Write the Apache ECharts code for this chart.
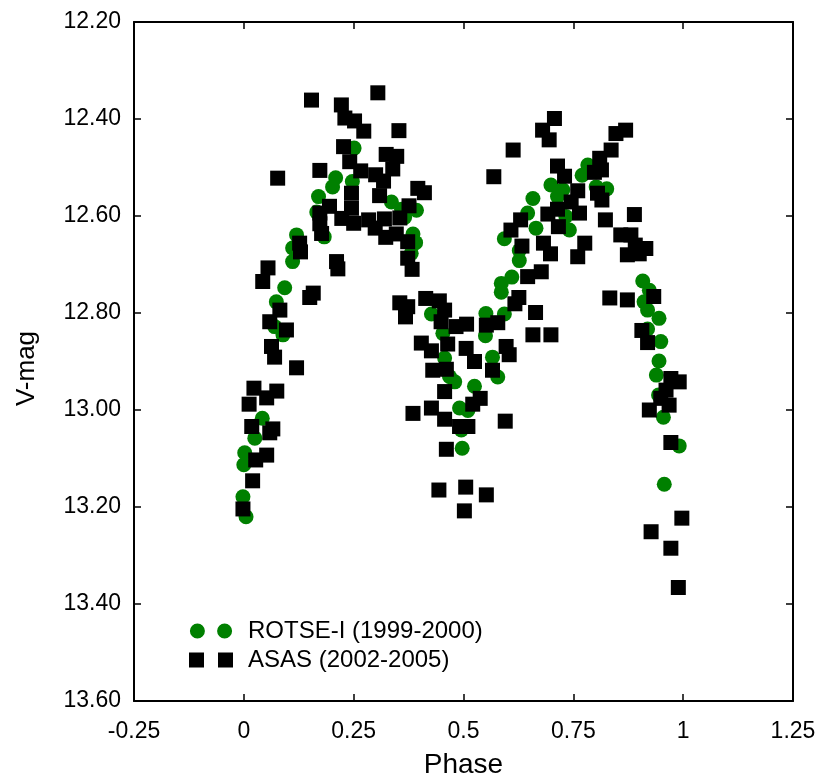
<!DOCTYPE html>
<html><head><meta charset="utf-8">
<script src="https://cdn.jsdelivr.net/npm/echarts@6/dist/echarts.min.js"></script>
<style>html,body{margin:0;padding:0;background:#fff}#c{width:822px;height:775px}</style>
</head><body><div id="c"></div>
<script>
// [phase, V-mag]
const rotseData = [
[0.005,13.220],[-0.002,13.179],[0.000,13.113],[0.002,13.088],[0.025,13.058],[0.042,13.017],[0.070,12.828],[0.089,12.845],[0.074,12.777],[0.093,12.748],
[0.111,12.694],[0.111,12.666],[0.120,12.639],[0.183,12.643],[0.166,12.592],[0.170,12.560],[0.202,12.540],[0.209,12.521],[0.247,12.529],[0.251,12.460],
[0.336,12.571],[0.359,12.586],[0.366,12.603],[0.393,12.588],[0.385,12.637],[0.391,12.655],[0.381,12.677],[0.427,12.802],[0.453,12.842],[0.457,12.893],
[0.468,12.931],[0.480,12.942],[0.525,12.951],[0.491,12.996],[0.510,13.001],[0.495,13.041],[0.497,13.079],[0.551,12.801],[0.593,12.802],[0.550,12.847],
[0.566,12.891],[0.578,12.932],[0.586,12.757],[0.586,12.739],[0.610,12.726],[0.593,12.647],[0.627,12.671],[0.627,12.692],[0.658,12.564],[0.646,12.594],
[0.665,12.625],[0.699,12.536],[0.714,12.560],[0.733,12.601],[0.741,12.629],[0.726,12.546],[0.783,12.495],[0.770,12.516],[0.802,12.540],[0.826,12.544],
[0.908,12.734],[0.923,12.753],[0.911,12.777],[0.919,12.794],[0.945,12.811],[0.919,12.833],[0.949,12.859],[0.945,12.899],[0.939,12.928],[0.944,12.969],
[0.955,13.015],[0.991,13.074],[0.957,13.153]
];
const asasData = [
[-0.002,13.204],[0.020,13.146],[0.027,13.103],[0.052,13.093],[0.018,13.034],[0.059,13.047],[0.066,13.039],[0.012,12.988],[0.052,12.975],[0.075,12.961],
[0.023,12.955],[0.120,12.913],[0.070,12.891],[0.063,12.869],[0.097,12.835],[0.059,12.818],[0.082,12.794],[0.158,12.759],[0.150,12.768],[0.043,12.735],
[0.055,12.707],[0.211,12.694],[0.214,12.709],[0.127,12.656],[0.129,12.674],[0.177,12.636],[0.173,12.616],[0.173,12.594],[0.195,12.580],[0.223,12.605],
[0.250,12.615],[0.245,12.584],[0.245,12.553],[0.173,12.506],[0.077,12.522],[0.227,12.457],[0.241,12.488],[0.266,12.507],[0.300,12.515],[0.318,12.528],
[0.339,12.503],[0.324,12.473],[0.348,12.477],[0.273,12.425],[0.353,12.424],[0.305,12.346],[0.222,12.371],[0.154,12.361],[0.230,12.398],[0.252,12.404],
[0.309,12.558],[0.396,12.543],[0.411,12.552],[0.376,12.579],[0.284,12.608],[0.299,12.625],[0.320,12.606],[0.355,12.604],[0.323,12.644],[0.347,12.637],
[0.373,12.653],[0.373,12.687],[0.383,12.710],[0.355,12.779],[0.373,12.787],[0.368,12.808],[0.414,12.770],[0.445,12.775],[0.457,12.794],[0.449,12.818],
[0.483,12.828],[0.507,12.823],[0.552,12.825],[0.578,12.820],[0.404,12.862],[0.427,12.878],[0.464,12.864],[0.506,12.873],[0.525,12.900],[0.430,12.918],
[0.461,12.916],[0.457,12.962],[0.521,12.988],[0.538,12.976],[0.385,13.007],[0.427,12.996],[0.457,13.019],[0.491,13.034],[0.510,13.034],[0.595,13.023],
[0.461,13.081],[0.444,13.165],[0.505,13.159],[0.552,13.175],[0.502,13.208],[0.566,12.918],[0.597,12.869],[0.604,12.886],[0.626,12.768],[0.617,12.781],
[0.664,12.799],[0.658,12.845],[0.699,12.845],[0.646,12.725],[0.677,12.715],[0.633,12.662],[0.682,12.656],[0.698,12.678],[0.608,12.629],[0.630,12.608],
[0.692,12.596],[0.714,12.586],[0.716,12.622],[0.569,12.519],[0.613,12.464],[0.707,12.399],[0.680,12.423],[0.695,12.443],[0.714,12.497],[0.730,12.518],
[0.760,12.548],[0.745,12.571],[0.764,12.594],[0.805,12.553],[0.815,12.567],[0.823,12.608],[0.889,12.597],[0.776,12.656],[0.760,12.684],[0.858,12.639],
[0.881,12.639],[0.891,12.660],[0.915,12.667],[0.873,12.680],[0.900,12.678],[0.798,12.510],[0.814,12.505],[0.810,12.481],[0.836,12.464],[0.847,12.430],
[0.869,12.423],[0.833,12.769],[0.873,12.773],[0.933,12.766],[0.906,12.836],[0.919,12.861],[0.972,12.935],[0.991,12.942],[0.961,12.959],[0.949,12.976],
[0.968,12.990],[0.923,13.000],[0.972,13.067],[0.997,13.223],[0.927,13.251],[0.972,13.285],[0.989,13.366]
];
const seriesNames = ['ROTSE-I (1999-2000)', 'ASAS (2002-2005)'];
const xRange = {min: -0.25, max: 1.25, interval: 0.25};
const yRange = {min: 12.2, max: 13.6, interval: 0.2};

const FONT = 'Liberation Sans, Arial, sans-serif';
const lineS = {color: '#000', width: 2};
const tickS = {show: true, inside: true, length: 7, lineStyle: {color: '#000', width: 1.5}};
const circlePair = 'path://M0,8A8,8 0 1,0 16,8A8,8 0 1,0 0,8ZM29,8A8,8 0 1,0 45,8A8,8 0 1,0 29,8Z';
const squarePair = 'path://M0,0H15V15H0ZM29,0H44V15H29Z';

const chart = echarts.init(document.getElementById('c'), null, {renderer: 'canvas'});
chart.setOption({
  animation: false,
  backgroundColor: '#fff',
  grid: {left: 134, top: 22, right: 29, bottom: 74, containLabel: false, outerBoundsMode: 'none'},
  legend: {
    orient: 'vertical', left: 184, top: 614, itemWidth: 44, itemHeight: 15, itemGap: 5,
    selectedMode: false,
    textStyle: {fontFamily: FONT, fontSize: 24, color: '#000', padding: [0, 0, 0, 10]},
    data: [{name: seriesNames[0], icon: circlePair}, {name: seriesNames[1], icon: squarePair}]
  },
  xAxis: [
    {type: 'value', min: xRange.min, max: xRange.max, interval: xRange.interval, position: 'bottom',
     axisLine: {show: true, onZero: false, lineStyle: lineS}, axisTick: tickS, splitLine: {show: false},
     axisLabel: {margin: 19, fontFamily: FONT, fontSize: 23, color: '#000'},
     name: 'Phase', nameLocation: 'middle', nameGap: 50,
     nameTextStyle: {fontFamily: FONT, fontSize: 28, color: '#000'}},
    {type: 'value', min: xRange.min, max: xRange.max, interval: xRange.interval, position: 'top',
     axisLine: {show: true, onZero: false, lineStyle: lineS}, axisTick: tickS, splitLine: {show: false},
     axisLabel: {show: false}}
  ],
  yAxis: [
    {type: 'value', min: yRange.min, max: yRange.max, interval: yRange.interval, inverse: true, position: 'left',
     axisLine: {show: true, onZero: false, lineStyle: lineS}, axisTick: tickS, splitLine: {show: false},
     axisLabel: {margin: 13, fontFamily: FONT, fontSize: 23, color: '#000', formatter: v => v.toFixed(2)},
     name: 'V-mag', nameLocation: 'middle', nameGap: 94, nameRotate: 90,
     nameTextStyle: {fontFamily: FONT, fontSize: 26, color: '#000', padding: [0, 14, 0, 0]}},
    {type: 'value', min: yRange.min, max: yRange.max, interval: yRange.interval, inverse: true, position: 'right',
     axisLine: {show: true, onZero: false, lineStyle: lineS}, axisTick: tickS, splitLine: {show: false},
     axisLabel: {show: false}}
  ],
  series: [
    {name: seriesNames[0], type: 'scatter', xAxisIndex: 0, yAxisIndex: 0, symbol: 'circle', symbolSize: 15,
     itemStyle: {color: '#008000', opacity: 1}, data: rotseData},
    {name: seriesNames[1], type: 'scatter', xAxisIndex: 0, yAxisIndex: 0, symbol: 'rect', symbolSize: 15,
     itemStyle: {color: '#000', opacity: 1}, data: asasData}
  ]
});
</script></body></html>
